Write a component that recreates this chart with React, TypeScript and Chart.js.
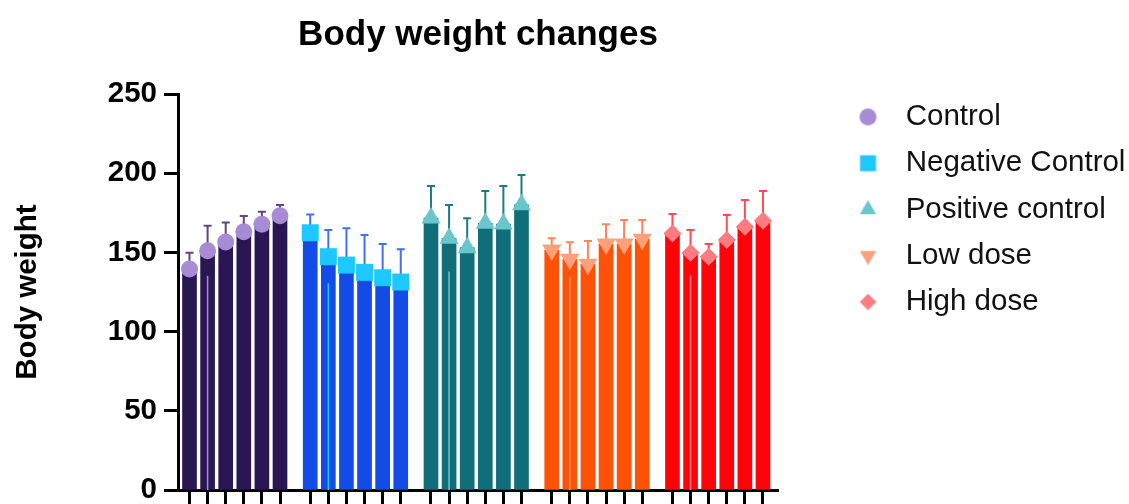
import React, { useEffect, useRef } from 'react';
import { Chart, registerables } from 'chart.js';
import { drawPoint } from 'chart.js/helpers';

Chart.register(...registerables);

// ---------- data ----------
const groups = ['Control', 'Negative Control', 'Positive control', 'Low dose', 'High dose'];
const timepoints = ['T1', 'T2', 'T3', 'T4', 'T5', 'T6'];

const controlMean = [139.5, 151, 156.5, 163, 167.7, 173.2];
const controlErr = [10.3, 15.8, 12.3, 10, 7.9, 6.7];
const negativeMean = [162.4, 147.3, 142, 137.4, 134, 131.3];
const negativeErr = [11.6, 16.8, 23.2, 23.6, 21.3, 20.7];
const positiveMean = [171.7, 158.9, 153, 168.4, 167.9, 180.1];
const positiveErr = [20.2, 21, 18.5, 20.4, 24, 18.8];
const lowMean = [151.5, 145.6, 142.5, 155.3, 155.3, 158.3];
const lowErr = [7.4, 10.8, 14.7, 12.4, 15.2, 12.2];
const highMean = [162, 149.8, 147.3, 157.8, 166.2, 170];
const highErr = [12.2, 14.3, 8, 15.8, 16.9, 18.8];

const yTicks = [0, 50, 100, 150, 200, 250];

const means = [controlMean, negativeMean, positiveMean, lowMean, highMean];
const errs = [controlErr, negativeErr, positiveErr, lowErr, highErr];

// ---------- styles ----------
const barColors = ['#2B1654', '#134BE6', '#0F6E79', '#FF5206', '#FF030A'];
const markerColors = ['#A78BD4', '#1EC8FF', '#6BC6CC', '#FFA07C', '#FF7B82'];
const errorColors = ['#5E4585', '#4270EE', '#1F7A82', '#FF8458', '#FF4A55'];
const pointStyles = ['circle', 'rect', 'triangle', 'triangle', 'rectRot'];
const pointRotations = [0, 0, 0, 180, 0];
const pointRadii = [8.5, 12, 11, 11, 9];
const legendRadii = [8.5, 11.3, 9.4, 9.4, 8.3];

const FONT = '"Liberation Sans", Arial, sans-serif';
const GROUP_SPACING = 6.67; // slots per group incl. gap
const CANVAS_W = 1129;
const PLOT_RIGHT = 778;
const LEGEND_LEFT = 836.5;
const LEGEND_FONT = 29.5;
const LEGEND_PAD = 16.75;

const xPos = (g: number, i: number) => g * GROUP_SPACING + i;
const allX: number[] = [];
groups.forEach((_, g) => timepoints.forEach((__, i) => allX.push(xPos(g, i))));

function legendWidth(): number {
  const c = document.createElement('canvas').getContext('2d')!;
  c.font = `${LEGEND_FONT}px ${FONT}`;
  const w = Math.max(...groups.map((t) => c.measureText(' ' + t).width));
  return LEGEND_PAD + LEGEND_FONT + LEGEND_FONT / 2 + w + 10;
}

function markerImage(g: number): HTMLCanvasElement {
  const r = legendRadii[g];
  const size = Math.ceil(2 * r + 4);
  const cv = document.createElement('canvas');
  cv.width = size;
  cv.height = size;
  const ctx = cv.getContext('2d')!;
  ctx.fillStyle = markerColors[g];
  ctx.strokeStyle = markerColors[g];
  drawPoint(
    ctx,
    { pointStyle: pointStyles[g] as any, rotation: pointRotations[g], radius: r, borderWidth: 0 } as any,
    size / 2,
    size / 2
  );
  return cv;
}

const errorBarPlugin = {
  id: 'errorBars',
  afterDatasetDraw(chart: any, args: any) {
    const ds = chart.data.datasets[args.index];
    if (!ds.errors) return;
    const y = chart.scales.y;
    const ctx = chart.ctx;
    ctx.save();
    args.meta.data.forEach((el: any, i: number) => {
      const v = ds.data[i].y;
      const e = ds.errors[i];
      const x = el.x;
      const yV = y.getPixelForValue(v);
      const yT = y.getPixelForValue(v + e);
      ctx.strokeStyle = ds.errorColor;
      ctx.lineWidth = 2;
      ctx.beginPath();
      ctx.moveTo(x, yV);
      ctx.lineTo(x, yT);
      ctx.moveTo(x - 4, yT);
      ctx.lineTo(x + 4, yT);
      ctx.stroke();
      if (i === 1) {
        ctx.strokeStyle = ds.lowerColor;
        ctx.lineWidth = 1.5;
        ctx.beginPath();
        ctx.moveTo(x, y.getPixelForValue(v - e));
        ctx.lineTo(x, y.getPixelForValue(0));
        ctx.stroke();
      }
    });
    ctx.restore();
  },
};

export default function App() {
  const ref = useRef<HTMLCanvasElement>(null);

  useEffect(() => {
    const barSets = groups.map((name, g) => ({
      type: 'bar' as const,
      label: name + ' bars',
      data: means[g].map((m, i) => ({ x: xPos(g, i), y: m })),
      backgroundColor: barColors[g],
      borderWidth: 0,
      grouped: false,
      barPercentage: 1,
      categoryPercentage: 1,
      maxBarThickness: 14,
      order: 2,
      errors: errs[g],
      errorColor: errorColors[g],
      lowerColor: markerColors[g],
    }));
    const markerSets = groups.map((name, g) => ({
      type: 'line' as const,
      label: name,
      data: means[g].map((m, i) => ({ x: xPos(g, i), y: m })),
      showLine: false,
      pointStyle: pointStyles[g],
      pointRotation: pointRotations[g],
      pointRadius: pointRadii[g],
      pointHoverRadius: pointRadii[g],
      pointBackgroundColor: markerColors[g],
      pointBorderColor: markerColors[g],
      pointBorderWidth: 0,
      backgroundColor: markerColors[g],
      borderColor: markerColors[g],
      order: 0,
      legendIndex: g,
    }));

    const images = groups.map((_, g) => markerImage(g));
    const lw = legendWidth();

    const chart = new Chart(ref.current!, {
      type: 'bar',
      data: { datasets: [...barSets, ...markerSets] as any },
      plugins: [errorBarPlugin],
      options: {
        animation: false,
        responsive: true,
        maintainAspectRatio: false,
        devicePixelRatio: 1,
        events: [],
        layout: {
          padding: { left: 6, right: CANVAS_W - LEGEND_LEFT - lw, top: 0, bottom: 0 },
        },
        plugins: {
          tooltip: { enabled: false },
          title: {
            display: true,
            text: 'Body weight changes',
            fullSize: false,
            color: '#000',
            font: { family: FONT, size: 35, weight: 'bold' },
            padding: { top: 14, bottom: 38 },
          },
          legend: {
            display: true,
            position: 'right',
            align: 'start',
            maxWidth: 500,
            title: {
              display: true,
              text: ' ',
              font: { size: 10 },
              padding: { top: 73.5, bottom: 0 },
            },
            labels: {
              usePointStyle: true,
              boxHeight: 12.5,
              padding: LEGEND_PAD,
              color: '#111',
              font: { family: FONT, size: LEGEND_FONT },
              filter: (item: any, data: any) => data.datasets[item.datasetIndex].type === 'line',
              generateLabels: (c: any) =>
                (Chart.defaults.plugins.legend.labels.generateLabels as any)(c).map((l: any) => {
                  const g = c.data.datasets[l.datasetIndex].legendIndex;
                  return {
                    ...l,
                    text: ' ' + l.text,
                    pointStyle: g === undefined ? l.pointStyle : images[g],
                    rotation: 0,
                  };
                }),
            },
          },
        },
        scales: {
          x: {
            type: 'linear',
            position: 'bottom',
            offset: false,
            min: -0.635,
            max: 32.51,
            afterBuildTicks: (s: any) => {
              s.ticks = allX.map((v) => ({ value: v }));
            },
            afterFit: (s: any) => {
              s.paddingLeft = 0;
              s.paddingRight = 0;
            },
            ticks: { display: false },
            grid: {
              display: true,
              offset: false,
              drawOnChartArea: false,
              drawTicks: true,
              tickLength: 14,
              tickWidth: 3,
              tickColor: '#000',
            },
            border: { display: true, color: '#000', width: 3 },
          },
          y: {
            type: 'linear',
            position: 'left',
            min: 0,
            max: 250,
            afterBuildTicks: (s: any) => {
              s.ticks = yTicks.map((v) => ({ value: v }));
            },
            afterFit: (s: any) => {
              s.width = 172;
              s.paddingTop = 0;
              s.paddingBottom = 0;
            },
            ticks: {
              padding: 7,
              color: '#000',
              font: { family: FONT, size: 29.5, weight: 'bold' },
            },
            grid: {
              display: true,
              drawOnChartArea: false,
              drawTicks: true,
              tickLength: 14,
              tickWidth: 3,
              tickColor: '#000',
            },
            border: { display: true, color: '#000', width: 3 },
            title: {
              display: true,
              text: 'Body weight',
              color: '#000',
              font: { family: FONT, size: 29.5, weight: 'bold' },
              padding: { top: 4, bottom: 4 },
            },
          },
          spacer: {
            type: 'linear',
            position: 'right',
            display: true,
            grid: { display: false },
            border: { display: false },
            ticks: { display: false },
            afterFit: (s: any) => {
              s.width = LEGEND_LEFT - PLOT_RIGHT;
              s.paddingTop = 0;
              s.paddingBottom = 0;
            },
          },
        },
      } as any,
    });
    return () => chart.destroy();
  }, []);

  return (
    <div
      style={{
        position: 'fixed',
        left: 0,
        top: 0,
        width: 1129,
        height: 504,
        overflow: 'hidden',
        background: '#fff',
      }}
    >
      <canvas ref={ref} />
    </div>
  );
}
